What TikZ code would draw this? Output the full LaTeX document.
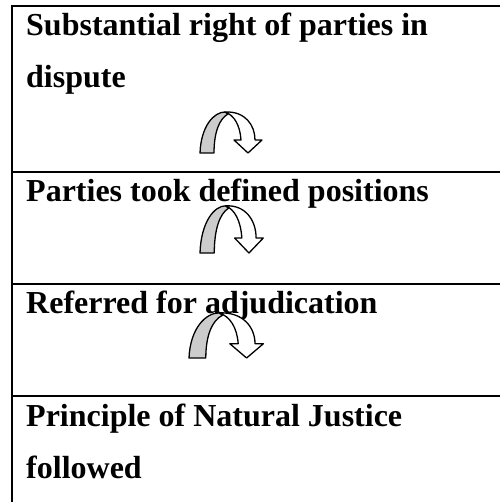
\documentclass[tikz,border=0pt]{standalone}
\usepackage{fontspec}
\setmainfont{Liberation Serif}

\def\bandColor{black!20}
\def\ruleWidth{2pt}

% curved turn arrow: #1,#2 = lower left corner, #3,#4 = x and y scale
\newcommand{\uturnArrow}[4]{%
  \begin{scope}[shift={(#1,#2)}, xscale=#3, yscale=-#4, line width=1.3pt, line join=round]
    \filldraw[fill=\bandColor] (0,0) .. controls (1,27) and (14,41) .. (25,41) -- (28,39) .. controls (19,34) and (14,20) .. (14,0) -- cycle;
    \filldraw[fill=white] (25,41) .. controls (45,42) and (55,28) .. (55,13) -- (62,13) -- (48,0) -- (34,13) -- (41,13) .. controls (40,28) and (34,38) .. (25,41) -- cycle;
  \end{scope}}

\begin{document}
\begin{tikzpicture}[x=1pt,y=-1pt,
    heading/.style={anchor=base west, inner sep=0pt, font=\fontsize{32}{32}\selectfont\bfseries}]

    \useasboundingbox (0,0) rectangle (500,502);

    % frame
    \draw[line width=\ruleWidth] (500,6) -- (12,6) -- (12,502);
    \foreach \y in {172,284,396}
        \draw[line width=\ruleWidth] (12,\y) -- (500,\y);

    % level 1
    \node[heading] (right1) at (26,36) {Substantial right of parties in};
    \node[heading] (right2) at (26,88) {dispute};
    \uturnArrow{200}{153}{1}{1}

    % level 2
    \node[heading] (positions) at (26,202) {Parties took defined positions};
    \uturnArrow{200}{253}{1.02}{1.15}

    % level 3
    \node[heading] (referred) at (26,313) {Referred for adjudication};
    \uturnArrow{189}{358}{1.2}{1.1}

    % level 4
    \node[heading] (justice1) at (26,426) {Principle of Natural Justice};
    \node[heading] (justice2) at (26,478) {followed};

\end{tikzpicture}
\end{document}
